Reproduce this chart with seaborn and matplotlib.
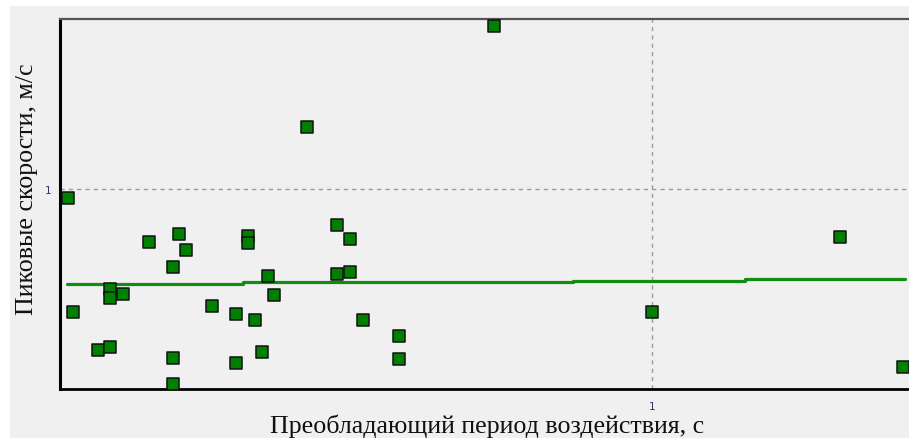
import matplotlib
matplotlib.use("Agg")
import matplotlib.pyplot as plt
from matplotlib.patches import Rectangle
from matplotlib.ticker import NullLocator, FixedLocator, FixedFormatter
import seaborn as sns
import pandas as pd

# Predominant period of the action, s
period = [0.1031, 0.1052, 0.1159, 0.1215, 0.1215, 0.1215, 0.1278, 0.1413,
          0.1589, 0.1632, 0.1552, 0.1552, 0.1552, 0.1806, 0.1983, 0.1983,
          0.2136, 0.2195, 0.2078, 0.2078, 0.2246, 0.2299, 0.2937, 0.3090,
          0.2937, 0.3090, 0.3250, 0.3737, 0.3737, 0.5409, 0.2614, 1.0,
          2.078, 2.655]
# Peak velocities, m/s
velocity = [0.902, 0.2427, 0.1567, 0.1622, 0.3162, 0.2851, 0.2985, 0.5433,
            0.5957, 0.4955, 0.4074, 0.1429, 0.1059, 0.2600, 0.2371, 0.1349,
            0.2213, 0.1531, 0.5821, 0.5370, 0.3673, 0.2951, 0.6607, 0.5623,
            0.3758, 0.3846, 0.2213, 0.1841, 0.1413, 6.531, 2.042, 0.2427,
            0.5754, 0.1288]

# Trend line, piecewise
trend_period = [0.1027, 0.2038, 0.7356, 1.436, 2.676]
trend_velocity = [0.3350, 0.3416, 0.3467, 0.3548, 0.3548]

tick_values = [1]
tick_labels = ["1"]

sns.set_style("white")
plt.rcParams["font.family"] = ["Liberation Serif", "DejaVu Serif"]

W, H = 909, 439
fig = plt.figure(figsize=(W / 100, H / 100), dpi=100, facecolor="white")
bg = Rectangle((10 / W, 0), 1, 1 - 7 / H, transform=fig.transFigure,
               facecolor="#f0f0f0", edgecolor="none")
bg.set_zorder(-10)
fig.patches.append(bg)

ax = fig.add_axes([60 / W, (H - 390) / H, (W - 60) / W, 370 / H])
ax.set_facecolor("#f0f0f0")

df = pd.DataFrame({"period": period, "velocity": velocity})
trend = pd.DataFrame({"period": trend_period, "velocity": trend_velocity})

sns.lineplot(data=trend, x="period", y="velocity", ax=ax, color="#148c14",
             linewidth=2.3, drawstyle="steps-post", estimator=None, sort=False,
             zorder=2)
sns.scatterplot(data=df, x="period", y="velocity", ax=ax, marker="s", s=70,
                color="#008000", edgecolor="#111111", linewidth=1.1, zorder=3)

ax.set_xscale("log")
ax.set_yscale("log")
ax.set_xlim(0.1, 2.717)
ax.set_ylim(0.1, 7.079)

for axis in (ax.xaxis, ax.yaxis):
    axis.set_major_locator(FixedLocator(tick_values))
    axis.set_major_formatter(FixedFormatter(tick_labels))
    axis.set_minor_locator(NullLocator())

ax.grid(True, which="major", color="#9a9a9a", linestyle=(0, (3, 3)), linewidth=1.0)
ax.tick_params(axis="both", which="major", length=4, width=1, color="#888888",
               labelsize=7.5, labelcolor="#3a2a6a")
ax.tick_params(axis="x", pad=5)
ax.tick_params(axis="y", pad=2.5)
for lbl in ax.get_xticklabels() + ax.get_yticklabels():
    lbl.set_family(["DejaVu Sans"])

ax.spines["left"].set_color("#000000")
ax.spines["left"].set_linewidth(2.2)
ax.spines["bottom"].set_color("#000000")
ax.spines["bottom"].set_linewidth(2.0)
ax.spines["top"].set_color("#555555")
ax.spines["top"].set_linewidth(1.6)
ax.spines["right"].set_visible(False)

ax.set_xlabel("Преобладающий период воздействия, с", fontsize=18.7, color="#111111")
ax.set_ylabel("Пиковые скорости, м/с", fontsize=18.7, color="#111111")
ax.xaxis.label.set_va("baseline")
ax.xaxis.set_label_coords(0.5035, -0.1162)
ax.yaxis.label.set_va("baseline")
ax.yaxis.set_label_coords(-0.0318, 0.543)

fig.savefig("out.png", dpi=100, facecolor=fig.get_facecolor())
